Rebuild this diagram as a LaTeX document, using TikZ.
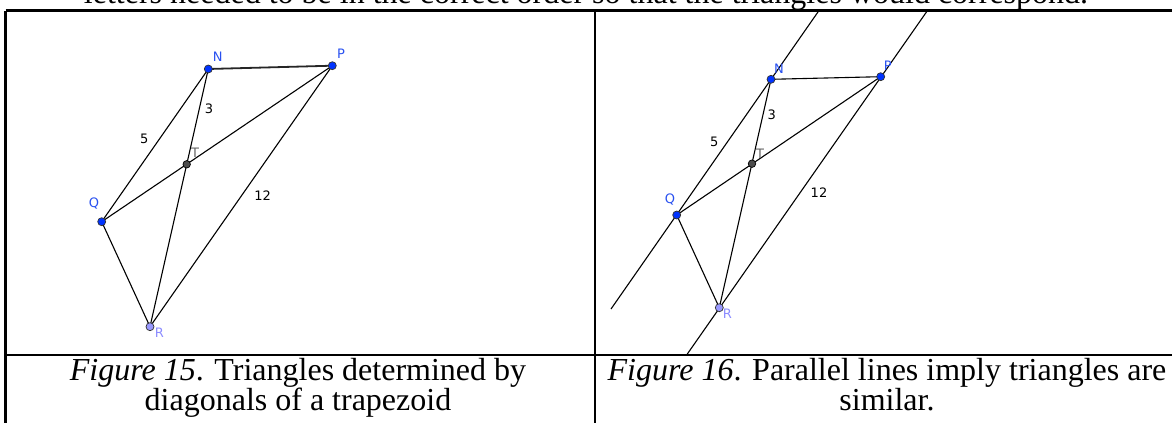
\documentclass[tikz,border=0pt]{standalone}
\usepackage{fontspec}
\setmainfont{Liberation Serif}
\newfontfamily\labfont{DejaVu Sans}
\begin{document}
\begin{tikzpicture}[x=1pt,y=-1pt,
  frame/.style={line width=2.4pt,black},
  seg/.style={line width=1.1pt,black},
  bluept/.style={circle,fill=ptblue,draw=black!80,line width=0.7pt,inner sep=0pt,minimum size=8pt},
  rpt/.style={circle,fill=ptlight,draw=black!80,line width=0.7pt,inner sep=0pt,minimum size=8pt},
  tpt/.style={circle,fill=black!70,draw=black,line width=0.7pt,inner sep=0pt,minimum size=7.5pt},
  lab/.style={font=\labfont\fontsize{13}{15}\selectfont,inner sep=0pt},
  caption/.style={font=\fontsize{32}{30}\selectfont,align=center,inner sep=0pt}]
\definecolor{ptblue}{HTML}{0033FF}
\definecolor{ptlight}{HTML}{9999FF}
\definecolor{labblue}{HTML}{2850F0}
\definecolor{lablight}{HTML}{8C8CFF}
\useasboundingbox (0,0) rectangle (1172,423);
\clip (0,0) rectangle (1172,423);
% text above
\node[anchor=base,inner sep=0pt,font=\fontsize{32}{30}\selectfont] (toptext) at (586,3) {letters needed to be in the correct order so that the triangles would correspond.};
% table
\coordinate (tl) at (5.5,10.5);
\coordinate (tr) at (1172,10.5);
\coordinate (bl) at (5.5,423);
\coordinate (mt) at (595,10.5);
\coordinate (mb) at (595,423);
\coordinate (hl) at (5.5,355);
\coordinate (hr) at (1172,355);
\draw[frame] (tl) -- (tr);
\draw[frame] (tl) -- (bl);
\draw[frame] (mt) -- (mb);
\draw[frame] (hl) -- (hr);
% left figure
\coordinate (N1) at (208.3,69);
\coordinate (P1) at (332.3,65.7);
\coordinate (T1) at (186.7,164.3);
\coordinate (Q1) at (101.7,221.7);
\coordinate (R1) at (150,326.7);
\draw[line width=1.8pt,black!85] (N1) -- (P1);
\draw[seg] (N1) -- (Q1);
\draw[seg] (Q1) -- (P1);
\draw[seg] (N1) -- (R1);
\draw[seg] (P1) -- (R1);
\draw[seg] (Q1) -- (R1);
\node[bluept] (n1) at (N1) {};
\node[bluept] (p1) at (P1) {};
\node[bluept] (q1) at (Q1) {};
\node[rpt] (r1) at (R1) {};
\node[tpt] (t1) at (T1) {};
\node[lab,text=labblue] (ln1) at (217.7,56.7) {N};
\node[lab,text=labblue] (lp1) at (341,54) {P};
\node[lab,text=labblue] (lq1) at (94,204) {Q};
\node[lab,text=lablight] (lr1) at (159.3,332.7) {R};
\node[lab,text=black!60] (lt1) at (195,152.7) {T};
\node[lab] (l31) at (209,109) {3};
\node[lab] (l51) at (144.3,139.3) {5};
\node[lab] (l121) at (262.7,195.7) {12};
% right figure
\coordinate (N2) at (771,79.3);
\coordinate (P2) at (880.7,76.7);
\coordinate (T2) at (752,163.7);
\coordinate (Q2) at (676.7,215);
\coordinate (R2) at (719.3,307.7);
\coordinate (qa) at (819,10.5);
\coordinate (qb) at (611,309);
\coordinate (pa) at (927.5,10.5);
\coordinate (pb) at (687.3,354);
\draw[seg] (qa) -- (qb);
\draw[seg] (pa) -- (pb);
\draw[seg] (N2) -- (P2);
\draw[seg] (Q2) -- (P2);
\draw[seg] (N2) -- (R2);
\draw[seg] (Q2) -- (R2);
\node[bluept] (n2) at (N2) {};
\node[bluept] (p2) at (P2) {};
\node[bluept] (q2) at (Q2) {};
\node[rpt] (r2) at (R2) {};
\node[tpt] (t2) at (T2) {};
\node[lab,text=labblue] (ln2) at (779,69) {N};
\node[lab,text=labblue] (lp2) at (887.7,65.7) {P};
\node[lab,text=labblue] (lq2) at (670,199.3) {Q};
\node[lab,text=lablight] (lr2) at (727.3,313.3) {R};
\node[lab,text=black!60] (lt2) at (760,153.3) {T};
\node[lab] (l32) at (771.7,115) {3};
\node[lab] (l52) at (714.3,141.7) {5};
\node[lab] (l122) at (819,192.3) {12};
% captions
\node[caption,anchor=north] (c1) at (298,358) {\textit{Figure 15}. Triangles determined by\\diagonals of a trapezoid};
\node[caption,anchor=north] (c2) at (887,358) {\textit{Figure 16}. Parallel lines imply triangles are\\similar.};
\end{tikzpicture}
\end{document}
